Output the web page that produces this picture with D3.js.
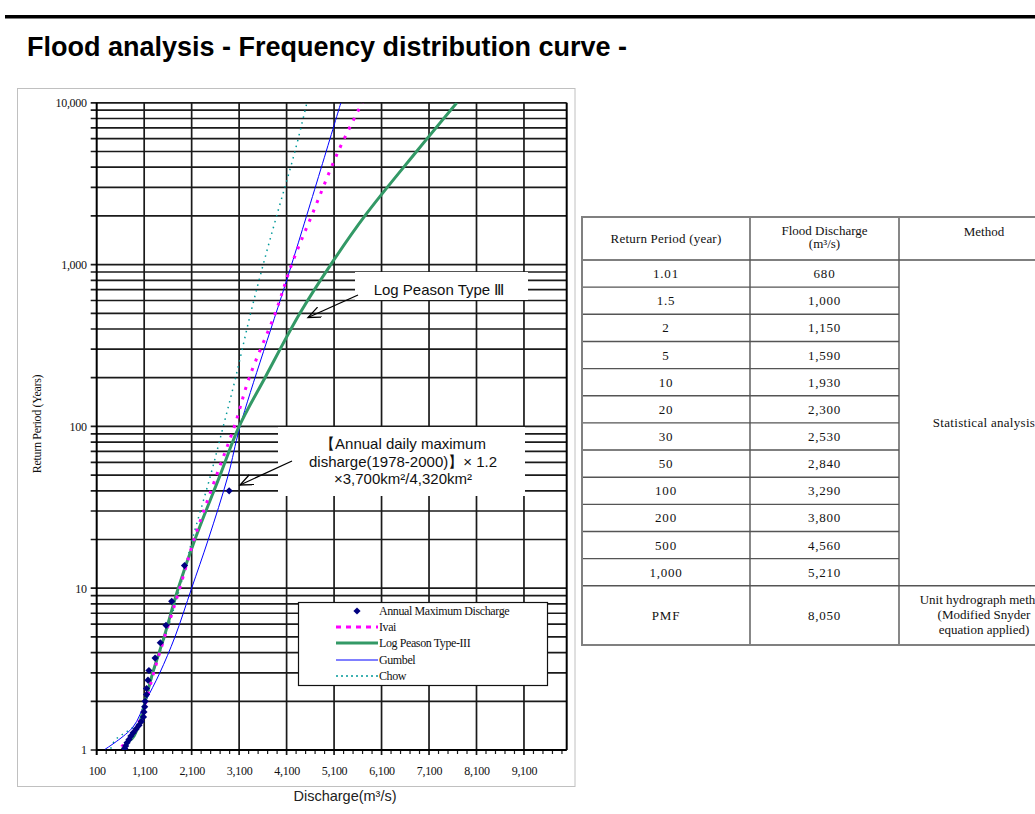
<!DOCTYPE html>
<html><head><meta charset="utf-8">
<script src="https://cdn.jsdelivr.net/npm/d3@7"></script>
<style>
html,body{margin:0;padding:0;background:#fff;}
svg{display:block;}
</style></head>
<body>
<svg id="c" width="1035" height="814"></svg>
<script>
// ---------------- DATA ----------------
const titleText = "Flood analysis - Frequency distribution curve -";
// Annual maximum discharge (plotted points): return period (years) and discharge (m3/s)
const obsT = [40, 13.8, 8.3, 5.9, 4.6, 3.7, 3.1, 2.7, 2.4, 2.2, 2.0, 1.85, 1.72, 1.6, 1.5, 1.42, 1.35, 1.28, 1.22, 1.16, 1.11, 1.06, 1.02];
const obsQ = [2890, 1950, 1680, 1560, 1440, 1330, 1200, 1180, 1150, 1150, 1120, 1110, 1095, 1085, 1040, 990, 930, 870, 820, 780, 740, 710, 690];
// Ivai
const ivaiT = [1.05, 1.2, 1.5, 2, 3, 5, 10, 20, 50, 100, 200, 500, 1000, 2000, 5000, 10000];
const ivaiQ = [620, 840, 997, 1138, 1300, 1530, 1850, 2150, 2626, 3000, 3313, 3860, 4205, 4626, 5187, 5692];
// Log Pearson Type III
const lp3T = [1.01, 1.1, 1.2, 1.5, 2, 3, 5, 10, 20, 50, 100, 200, 500, 1000, 2000, 5000, 10000];
const lp3Q = [640, 730, 870, 1012, 1120, 1280, 1520, 1818, 2169, 2700, 3100, 3645, 4380, 5030, 5748, 6837, 7685];
// Gumbel
const gumT = [1.01, 1.38, 2, 3, 5, 10, 20, 50, 100, 1000, 10000];
const gumQ = [275, 860, 1130, 1430, 1748, 2100, 2450, 2870, 3120, 4205, 5243];
// Chow
const chowT = [1.02, 1.15, 1.24, 1.34, 1.5, 2, 3, 5, 10, 20, 50, 100, 200, 500, 1000, 2000, 5000, 10000];
const chowQ = [395, 485, 626, 800, 1000, 1140, 1290, 1540, 1850, 2114, 2500, 2766, 3026, 3342, 3607, 3890, 4275, 4527];

const xTickLabels = [100, 1100, 2100, 3100, 4100, 5100, 6100, 7100, 8100, 9100];
const yTickLabels = [1, 10, 100, 1000, 10000];
const legendLabels = ["Annual Maximum Discharge", "Ivai", "Log Peason Type-III", "Gumbel", "Chow"];
const xTitle = "Discharge(m\u00B3/s)";
const yTitle = "Return Period (Years)";
const note1 = ["Log Peason Type \u2162"];
const note2 = ["\u3010Annual daily maximum", "disharge(1978-2000)\u3011\u00D7 1.2", "\u00D73,700km\u00B2/4,320km\u00B2"];

// table
const tableHeaders = [["Return Period (year)"], ["Flood Discharge", "(m\u00B3/s)"], ["Method"]];
const tablePeriods = ["1.01", "1.5", "2", "5", "10", "20", "30", "50", "100", "200", "500", "1,000", "PMF"];
const tableDischarge = ["680", "1,000", "1,150", "1,590", "1,930", "2,300", "2,530", "2,840", "3,290", "3,800", "4,560", "5,210", "8,050"];
const tableMethods = [["Statistical analysis"], ["Unit hydrograph method", "(Modified Snyder", "equation applied)"]];

// ---------------- DRAW ----------------
const svg = d3.select("#c");
const SANS = "'Liberation Sans', Arial, sans-serif";
const SERIF = "'Liberation Serif', 'Times New Roman', serif";

// top bar and title
svg.append("rect").attr("x", 5).attr("y", 15).attr("width", 1030).attr("height", 3.5).attr("fill", "#000");
svg.append("text").attr("x", 27).attr("y", 56).attr("font-family", SANS).attr("font-weight", "bold")
  .attr("font-size", 27).attr("fill", "#000").text(titleText);

// chart frame
svg.append("rect").attr("x", 17.5).attr("y", 88.5).attr("width", 557.5).attr("height", 698)
  .attr("fill", "#fff").attr("stroke", "#c0c0c0").attr("stroke-width", 1);

const X0 = 96.7, X1 = 566.7, Y0 = 102.8, Y1 = 750;
const x = d3.scaleLinear().domain([100, 10000]).range([X0, X1]);
const y = d3.scaleLog().domain([1, 10000]).range([Y1, Y0]);

const grid = svg.append("g").attr("stroke", "#1a1a1a").attr("stroke-width", 1.7);
// horizontal grid (all log ticks)
grid.selectAll("line.h").data(y.ticks()).join("line").attr("class", "h")
  .attr("x1", X0 - 6).attr("x2", X1).attr("y1", d => y(d)).attr("y2", d => y(d));
// vertical grid at labelled ticks
grid.selectAll("line.v").data(xTickLabels.slice(1)).join("line").attr("class", "v")
  .attr("x1", d => x(d)).attr("x2", d => x(d)).attr("y1", Y0).attr("y2", Y1 + 5);
// minor x ticks every 200
const minor = d3.range(100, 10001, 200).filter(v => !xTickLabels.includes(v));
svg.append("g").attr("stroke", "#1a1a1a").attr("stroke-width", 1.2)
  .selectAll("line").data(minor).join("line")
  .attr("x1", d => x(d)).attr("x2", d => x(d)).attr("y1", Y1).attr("y2", Y1 + 4);
// borders
svg.append("line").attr("x1", X0).attr("x2", X0).attr("y1", Y0).attr("y2", Y1 + 5).attr("stroke", "#000").attr("stroke-width", 2);
svg.append("line").attr("x1", X1).attr("x2", X1).attr("y1", Y0).attr("y2", Y1).attr("stroke", "#000").attr("stroke-width", 2);
svg.append("line").attr("x1", X0).attr("x2", X1).attr("y1", Y1).attr("y2", Y1).attr("stroke", "#000").attr("stroke-width", 2);

// axes (labels)
const xAxis = svg.append("g").attr("transform", `translate(0,${Y1})`)
  .call(d3.axisBottom(x).tickValues(xTickLabels).tickFormat(d3.format(",")).tickSize(0).tickPadding(16));
const yAxis = svg.append("g").attr("transform", `translate(${X0},0)`)
  .call(d3.axisLeft(y).tickValues(yTickLabels).tickFormat(d3.format(",")).tickSize(0).tickPadding(10));
[xAxis, yAxis].forEach(a => {
  a.select(".domain").remove();
  a.selectAll("text").attr("font-family", SERIF).attr("font-size", 12).attr("fill", "#111").attr("letter-spacing", -0.3);
});

// axis titles
svg.append("text").attr("x", 345).attr("y", 801).attr("text-anchor", "middle").attr("font-family", SANS)
  .attr("font-size", 14.5).attr("fill", "#222").text(xTitle);
svg.append("text").attr("transform", "translate(41,424) rotate(-90)").attr("text-anchor", "middle")
  .attr("font-family", SERIF).attr("font-size", 12).attr("fill", "#111").attr("letter-spacing", -0.3).text(yTitle);

// annotation boxes (drawn over grid)
svg.append("rect").attr("x", 355).attr("y", 272).attr("width", 173).attr("height", 28).attr("fill", "#fff");
svg.append("rect").attr("x", 278).attr("y", 427).attr("width", 247).attr("height", 69).attr("fill", "#fff");

// clip
svg.append("clipPath").attr("id", "plot").append("rect").attr("x", X0).attr("y", Y0).attr("width", X1 - X0).attr("height", Y1 - Y0);
const plot = svg.append("g").attr("clip-path", "url(#plot)");

const line = d3.line().x(d => x(d[1])).y(d => y(d[0])).curve(d3.curveCatmullRom.alpha(0.5));
const zip = (a, b) => a.map((v, i) => [v, b[i]]);

const series = [
  { T: chowT, Q: chowQ, color: "#009999", width: 1.5, dash: "1.5,4.5" },
  { T: gumT, Q: gumQ, color: "#0000ff", width: 1, dash: null },
  { T: lp3T, Q: lp3Q, color: "#339966", width: 3, dash: null },
  { T: ivaiT, Q: ivaiQ, color: "#ff00ff", width: 3, dash: "3,7" }
];
series.forEach(s => {
  plot.append("path").attr("d", line(zip(s.T, s.Q))).attr("fill", "none")
    .attr("stroke", s.color).attr("stroke-width", s.width).attr("stroke-dasharray", s.dash);
});

// observed points
const diamond = d3.symbol(d3.symbolSquare, 26);
plot.selectAll("path.pt").data(zip(obsT, obsQ)).join("path").attr("class", "pt")
  .attr("d", diamond).attr("fill", "#000080")
  .attr("transform", d => `translate(${x(d[1])},${y(d[0])}) rotate(45)`);

// annotation texts & arrows
const defs = svg.append("defs");
defs.append("marker").attr("id", "arr").attr("markerUnits", "userSpaceOnUse")
  .attr("markerWidth", 16).attr("markerHeight", 12).attr("refX", 13).attr("refY", 5.5).attr("orient", "auto")
  .append("path").attr("d", "M0,0 L13,5.5 L0,11").attr("fill", "none").attr("stroke", "#000").attr("stroke-width", 1.3);

svg.append("text").attr("x", 439).attr("y", 295).attr("text-anchor", "middle").attr("font-family", SANS)
  .attr("font-size", 15).attr("fill", "#111").text(note1[0]);
svg.append("line").attr("x1", 358).attr("y1", 295).attr("x2", 308).attr("y2", 317.5)
  .attr("stroke", "#000").attr("stroke-width", 1.3).attr("marker-end", "url(#arr)");

svg.append("g").selectAll("text").data(note2).join("text")
  .attr("x", 403).attr("y", (d, i) => 449 + i * 17.5).attr("text-anchor", "middle")
  .attr("font-family", SANS).attr("font-size", 15).attr("fill", "#111").text(d => d);
svg.append("line").attr("x1", 292).attr("y1", 461).attr("x2", 240).attr("y2", 485)
  .attr("stroke", "#000").attr("stroke-width", 1.3).attr("marker-end", "url(#arr)");

// legend
const lg = svg.append("g");
lg.append("rect").attr("x", 298.5).attr("y", 602.5).attr("width", 249).attr("height", 83)
  .attr("fill", "#fff").attr("stroke", "#111").attr("stroke-width", 1.2);
const legRows = [611, 627, 643, 660, 676];
legendLabels.forEach((lab, i) => {
  const yy = legRows[i];
  if (i === 0) {
    lg.append("path").attr("d", diamond).attr("fill", "#000080").attr("transform", `translate(357,${yy}) rotate(45)`);
  } else {
    const s = series[[3, 2, 1, 0][i - 1]];
    lg.append("line").attr("x1", 336).attr("x2", 378).attr("y1", yy).attr("y2", yy)
      .attr("stroke", s.color).attr("stroke-width", s.width).attr("stroke-dasharray", i === 1 ? "5,5" : (i === 4 ? "2,3" : null));
  }
  lg.append("text").attr("x", 379).attr("y", yy + 4).attr("font-family", SERIF).attr("font-size", 12)
    .attr("letter-spacing", -0.4).attr("fill", "#111").text(lab);
});

// ---------------- TABLE ----------------
const tb = svg.append("g");
const colX = [582, 750, 899, 1069];
const headTop = 217, headBot = 260, rowH = 27.15;
const rowTops = tablePeriods.map((d, i) => headBot + i * rowH);
const lastTop = rowTops[12], tabBot = 645;
const F = { "font-family": SERIF, "font-size": 13, "fill": "#111" };
function txt(g, xx, yy, s, extra) {
  const t = g.append("text").attr("x", xx).attr("y", yy).attr("text-anchor", "middle").text(s);
  Object.entries(F).forEach(([k, v]) => t.attr(k, v));
  if (extra) Object.entries(extra).forEach(([k, v]) => t.attr(k, v));
  return t;
}
// lines
const L = tb.append("g").attr("stroke", "#555").attr("stroke-width", 1.4);
L.append("line").attr("x1", colX[0]).attr("x2", colX[3]).attr("y1", headBot).attr("y2", headBot);
rowTops.slice(1, 12).forEach(t => L.append("line").attr("x1", colX[0]).attr("x2", colX[2]).attr("y1", t).attr("y2", t));
L.append("line").attr("x1", colX[0]).attr("x2", colX[3]).attr("y1", lastTop).attr("y2", lastTop);
L.append("line").attr("x1", colX[1]).attr("x2", colX[1]).attr("y1", headTop).attr("y2", tabBot);
L.append("line").attr("x1", colX[2]).attr("x2", colX[2]).attr("y1", headTop).attr("y2", tabBot);
tb.append("rect").attr("x", colX[0]).attr("y", headTop).attr("width", colX[3] - colX[0]).attr("height", tabBot - headTop)
  .attr("fill", "none").attr("stroke", "#808080").attr("stroke-width", 2);

// header texts
const cc = i => (colX[i] + colX[i + 1]) / 2;
txt(tb, cc(0), 243, tableHeaders[0][0], { "letter-spacing": 0.2 });
txt(tb, cc(1), 235, tableHeaders[1][0]);
txt(tb, cc(1), 248, tableHeaders[1][1]);
txt(tb, cc(2), 236, tableHeaders[2][0]);
// rows
tablePeriods.forEach((p, i) => {
  const top = rowTops[i], bot = i < 12 ? rowTops[i] + rowH : tabBot;
  const cy = (top + bot) / 2 + 4.5;
  txt(tb, cc(0), cy, p, { "letter-spacing": 0.8 });
  txt(tb, cc(1), cy, tableDischarge[i], { "letter-spacing": 0.8 });
});
txt(tb, cc(2), (headBot + lastTop) / 2 + 4, tableMethods[0][0], { "letter-spacing": 0.3 });
tableMethods[1].forEach((s, i) => txt(tb, cc(2), 604 + i * 15, s));
</script>
</body></html>
